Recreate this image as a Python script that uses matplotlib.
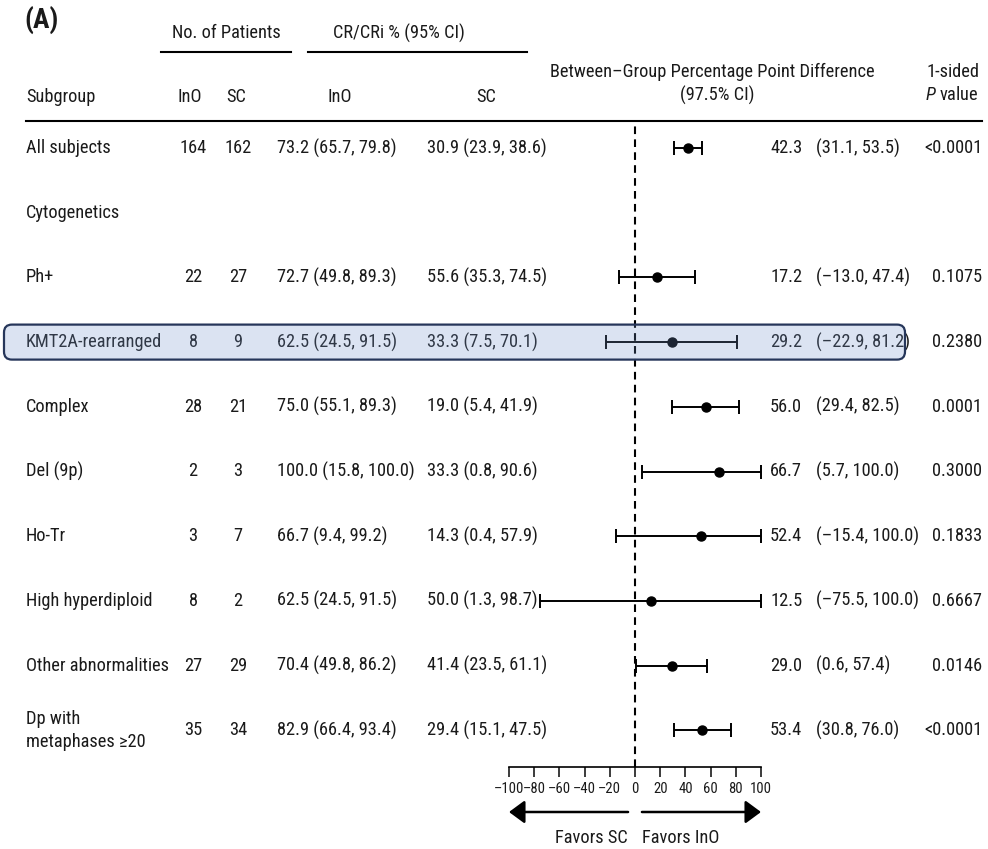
import numpy as np
import matplotlib
matplotlib.use("Agg")
import matplotlib.pyplot as plt
from matplotlib import transforms
from matplotlib import font_manager as fm
from matplotlib.lines import Line2D
from matplotlib.patches import FancyBboxPatch, FancyArrowPatch, ArrowStyle

# ---------------- data ----------------
subgroups = ["All subjects", "Cytogenetics", "Ph+", "KMT2A-rearranged", "Complex",
             "Del (9p)", "Ho-Tr", "High hyperdiploid", "Other abnormalities",
             "Dp with\nmetaphases \u226520"]
n_ino = [164, None, 22, 8, 28, 2, 3, 8, 27, 35]
n_sc = [162, None, 27, 9, 21, 3, 7, 2, 29, 34]

cr_ino = [73.2, np.nan, 72.7, 62.5, 75.0, 100.0, 66.7, 62.5, 70.4, 82.9]
cr_ino_lo = [65.7, np.nan, 49.8, 24.5, 55.1, 15.8, 9.4, 24.5, 49.8, 66.4]
cr_ino_hi = [79.8, np.nan, 89.3, 91.5, 89.3, 100.0, 99.2, 91.5, 86.2, 93.4]

cr_sc = [30.9, np.nan, 55.6, 33.3, 19.0, 33.3, 14.3, 50.0, 41.4, 29.4]
cr_sc_lo = [23.9, np.nan, 35.3, 7.5, 5.4, 0.8, 0.4, 1.3, 23.5, 15.1]
cr_sc_hi = [38.6, np.nan, 74.5, 70.1, 41.9, 90.6, 57.9, 98.7, 61.1, 47.5]

diff = np.array([42.3, np.nan, 17.2, 29.2, 56.0, 66.7, 52.4, 12.5, 29.0, 53.4])
diff_lo = np.array([31.1, np.nan, -13.0, -22.9, 29.4, 5.7, -15.4, -75.5, 0.6, 30.8])
diff_hi = np.array([53.5, np.nan, 47.4, 81.2, 82.5, 100.0, 100.0, 100.0, 57.4, 76.0])

p_values = ["<0.0001", "", "0.1075", "0.2380", "0.0001", "0.3000", "0.1833",
            "0.6667", "0.0146", "<0.0001"]

highlight_row = 3
xticks = [-100, -80, -60, -40, -20, 0, 20, 40, 60, 80, 100]

# ---------------- fonts ----------------
names = {f.name for f in fm.fontManager.ttflist}
FAM, FS = "Liberation Sans", 11.6
for cand, size in (("Liberation Sans Narrow", 13.8), ("Roboto Condensed", 13.2),
                   ("Open Sans Condensed", 13.0)):
    if cand in names:
        FAM, FS = cand, size
        break
plt.rcParams["font.family"] = [FAM, "DejaVu Sans"]
plt.rcParams["mathtext.fontset"] = "custom"
plt.rcParams["mathtext.rm"] = FAM
plt.rcParams["mathtext.it"] = FAM + ":italic"
plt.rcParams["lines.scale_dashes"] = False

TXT = "#1a1a1a"
DASH = "\u2013"

W, H = 988, 849
fig = plt.figure(figsize=(W / 100, H / 100), dpi=100)
fig.patch.set_facecolor("white")


def fx(px):
    return px / W


def fy(py):
    return 1 - py / H


# forest axes: x from -100 (px 509) to 100 (px 761); top at header line, bottom = scale axis
top_px, bot_px = 121, 767
row0_px, row_step = 148, 64.7
ax = fig.add_axes([fx(509), fy(bot_px), fx(761) - fx(509), fy(top_px) - fy(bot_px)])
ax.patch.set_visible(False)
ax.set_xlim(-100, 100)
ax.set_ylim((bot_px - row0_px) / row_step, (top_px - row0_px) / row_step)
for s in ("top", "left", "right"):
    ax.spines[s].set_visible(False)
ax.spines["bottom"].set_linewidth(1.2)
ax.set_yticks([])
ax.set_xticks(xticks)
ax.set_xticklabels([str(t).replace("-", DASH) for t in xticks])
ax.tick_params(axis="x", direction="out", length=7, width=1.2, pad=4,
               labelsize=FS * 0.8, colors=TXT)

rows = np.arange(len(subgroups))

ax.axvline(0, ymax=0.995, color="black", lw=1.5, dashes=(5.5, 3.8))

ax.errorbar(diff, rows, xerr=[diff - diff_lo, diff_hi - diff], fmt="o",
            ms=6.5, color="black", ecolor="black", elinewidth=1.4,
            capsize=4.8, capthick=1.4, zorder=3)

blend = transforms.blended_transform_factory(fig.transFigure, ax.transData)


def fmt_ci(v, lo, hi):
    s = f"{v:.1f} ({lo:.1f}, {hi:.1f})"
    return s.replace("-", DASH)


for i, name in enumerate(subgroups):
    y = rows[i]
    ax.text(fx(26), y, name, transform=blend, ha="left", va="center",
            fontsize=FS, color=TXT, linespacing=1.35)
    if n_ino[i] is None:
        continue
    ax.text(fx(193), y, str(n_ino[i]), transform=blend, ha="center", va="center",
            fontsize=FS, color=TXT)
    ax.text(fx(238), y, str(n_sc[i]), transform=blend, ha="center", va="center",
            fontsize=FS, color=TXT)
    ax.text(fx(277), y, fmt_ci(cr_ino[i], cr_ino_lo[i], cr_ino_hi[i]), transform=blend,
            ha="left", va="center", fontsize=FS, color=TXT)
    ax.text(fx(427), y, fmt_ci(cr_sc[i], cr_sc_lo[i], cr_sc_hi[i]), transform=blend,
            ha="left", va="center", fontsize=FS, color=TXT)
    ax.text(fx(770), y, f"{diff[i]:.1f}", transform=blend, ha="left", va="center",
            fontsize=FS, color=TXT)
    ci = f"({diff_lo[i]:.1f}, {diff_hi[i]:.1f})".replace("-", DASH)
    ax.text(fx(816), y, ci, transform=blend, ha="left", va="center",
            fontsize=FS, color=TXT)
    ax.text(fx(982), y, p_values[i], transform=blend, ha="right", va="center",
            fontsize=FS, color=TXT)

# ---------------- header ----------------
fig.text(fx(24), fy(20), "(A)", fontsize=FS * 1.5, fontweight="bold", ha="left",
         va="center", color=TXT)
fig.text(fx(226), fy(33), "No. of Patients", fontsize=FS, ha="center", va="center", color=TXT)
fig.text(fx(399), fy(33), "CR/CRi % (95% CI)", fontsize=FS, ha="center", va="center", color=TXT)
fig.add_artist(Line2D([fx(161), fx(291)], [fy(52), fy(52)], color="black", lw=1.5))
fig.add_artist(Line2D([fx(308), fx(527)], [fy(52), fy(52)], color="black", lw=1.5))
fig.text(fx(26), fy(97), "Subgroup", fontsize=FS, ha="left", va="center", color=TXT)
fig.text(fx(190), fy(97), "InO", fontsize=FS, ha="center", va="center", color=TXT)
fig.text(fx(236), fy(97), "SC", fontsize=FS, ha="center", va="center", color=TXT)
fig.text(fx(340), fy(97), "InO", fontsize=FS, ha="center", va="center", color=TXT)
fig.text(fx(486), fy(97), "SC", fontsize=FS, ha="center", va="center", color=TXT)
fig.text(fx(712), fy(72), "Between\u2013Group Percentage Point Difference", fontsize=FS,
         ha="center", va="center", color=TXT)
fig.text(fx(717), fy(95), "(97.5% CI)", fontsize=FS, ha="center", va="center", color=TXT)
fig.text(fx(979), fy(72), "1-sided", fontsize=FS, ha="right", va="center", color=TXT)
fig.text(fx(979), fy(95), r"$\it{P}$ value", fontsize=FS, ha="right", va="center", color=TXT)
fig.add_artist(Line2D([fx(26), fx(982)], [fy(121), fy(121)], color="black", lw=1.5))

# ---------------- favours arrows ----------------
arr_tr = transforms.blended_transform_factory(ax.transData, fig.transFigure)
style = ArrowStyle("-|>", head_length=9.5, head_width=7.0)
for x0, x1 in ((-5.5, -100), (5.5, 100)):
    ar = FancyArrowPatch((x0, fy(812)), (x1, fy(812)), transform=arr_tr,
                         arrowstyle=style, mutation_scale=1, lw=1.8, color="black",
                         shrinkA=0, shrinkB=0, clip_on=False)
    ax.add_artist(ar)
fig.text(fx(628), fy(838), "Favors SC", fontsize=FS, ha="right", va="center", color=TXT)
fig.text(fx(642), fy(838), "Favors InO", fontsize=FS, ha="left", va="center", color=TXT)

# ---------------- highlight box (translucent overlay) ----------------
yc_px = row0_px + highlight_row * row_step
bx0, bx1 = 4, 905
by0, by1 = yc_px - 17.5, yc_px + 17.5
box = FancyBboxPatch((fx(bx0), fy(by1)), fx(bx1) - fx(bx0), fy(by0) - fy(by1),
                     boxstyle="round,pad=0,rounding_size=0.008",
                     mutation_aspect=W / H, transform=fig.transFigure,
                     facecolor=(0.45, 0.575, 0.80, 0.25), edgecolor="#26365a",
                     lw=1.6, zorder=10)
fig.patches.append(box)

fig.savefig("out.png", dpi=100, facecolor="white")
